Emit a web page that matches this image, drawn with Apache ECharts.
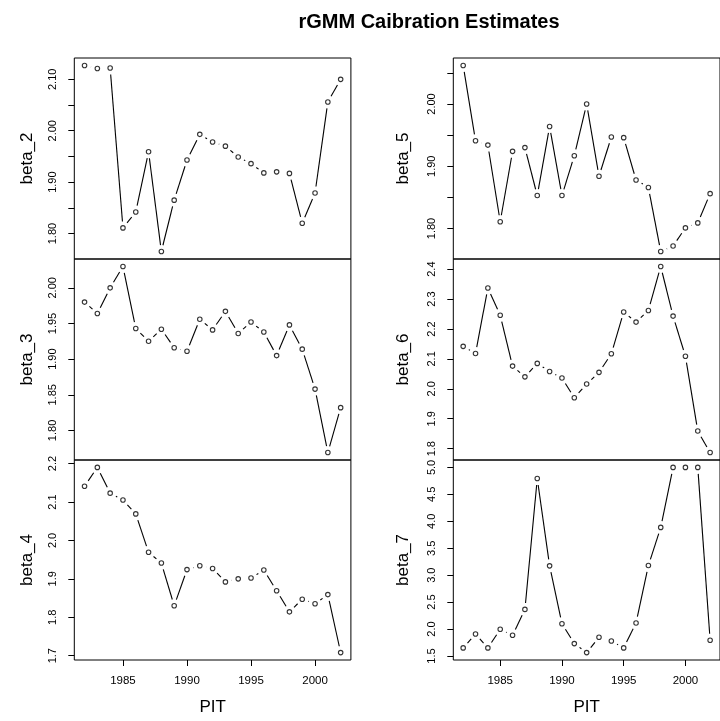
<!DOCTYPE html>
<html>
<head>
<meta charset="utf-8">
<script src="https://cdn.jsdelivr.net/npm/echarts@6/dist/echarts.min.js"></script>
<style>
  html, body { margin: 0; padding: 0; background: #fff; }
  #chart { width: 720px; height: 721px; }
</style>
</head>
<body>
<div id="chart"></div>
<script>
// 年份
var years = [1982, 1983, 1984, 1985, 1986, 1987, 1988, 1989, 1990, 1991, 1992,
             1993, 1994, 1995, 1996, 1997, 1998, 1999, 2000, 2001, 2002];

// 各参数的估计值
var beta_2 = [2.127, 2.121, 2.122, 1.811, 1.842, 1.959, 1.765, 1.865, 1.943, 1.993, 1.978,
              1.970, 1.949, 1.936, 1.918, 1.920, 1.917, 1.820, 1.879, 2.056, 2.100];
var beta_3 = [1.980, 1.964, 2.000, 2.030, 1.943, 1.925, 1.942, 1.916, 1.911, 1.956, 1.941,
              1.967, 1.936, 1.952, 1.938, 1.905, 1.948, 1.914, 1.858, 1.769, 1.832];
var beta_4 = [2.141, 2.190, 2.123, 2.105, 2.069, 1.969, 1.941, 1.830, 1.924, 1.934, 1.927,
              1.892, 1.900, 1.902, 1.923, 1.869, 1.814, 1.847, 1.835, 1.859, 1.708];
var beta_5 = [2.062, 1.941, 1.934, 1.811, 1.924, 1.930, 1.853, 1.964, 1.853, 1.917, 2.000,
              1.884, 1.947, 1.946, 1.878, 1.866, 1.763, 1.772, 1.801, 1.809, 1.856];
var beta_6 = [2.142, 2.118, 2.337, 2.246, 2.076, 2.040, 2.085, 2.058, 2.036, 1.970, 2.016,
              2.055, 2.117, 2.257, 2.223, 2.262, 2.409, 2.243, 2.109, 1.859, 1.787];
var beta_7 = [1.651, 1.909, 1.651, 1.996, 1.885, 2.365, 4.793, 3.173, 2.100, 1.731, 1.564,
              1.848, 1.780, 1.651, 2.113, 3.179, 3.887, 5.000, 5.000, 5.000, 1.792];

// 刻度
var xTicks = [1985, 1990, 1995, 2000];
var beta_2Ticks = [1.80, 1.85, 1.90, 1.95, 2.00, 2.05, 2.10];
var beta_2Labels = [1.80, 1.90, 2.00, 2.10];
var beta_3Ticks = [1.80, 1.85, 1.90, 1.95, 2.00];
var beta_3Labels = [1.80, 1.85, 1.90, 1.95, 2.00];
var beta_4Ticks = [1.7, 1.8, 1.9, 2.0, 2.1, 2.2];
var beta_4Labels = [1.7, 1.8, 1.9, 2.0, 2.1, 2.2];
var beta_5Ticks = [1.80, 1.85, 1.90, 1.95, 2.00, 2.05];
var beta_5Labels = [1.80, 1.90, 2.00];
var beta_6Ticks = [1.8, 1.9, 2.0, 2.1, 2.2, 2.3, 2.4];
var beta_6Labels = [1.8, 1.9, 2.0, 2.1, 2.2, 2.3, 2.4];
var beta_7Ticks = [1.5, 2.0, 2.5, 3.0, 3.5, 4.0, 4.5, 5.0];
var beta_7Labels = [1.5, 2.0, 2.5, 3.0, 3.5, 4.0, 4.5, 5.0];

var FONT = "'Liberation Sans', Arial, Helvetica, sans-serif";
var GAP = 6.5; // type="b" 线段在点两端留空

var panels = [
  { name: "beta_2", data: beta_2, ticks: beta_2Ticks, labels: beta_2Labels, dec: 2, left: 74.3, top: 58, height: 201, gap: 38, bottom: false },
  { name: "beta_3", data: beta_3, ticks: beta_3Ticks, labels: beta_3Labels, dec: 2, left: 74.3, top: 259, height: 201, gap: 38, bottom: false },
  { name: "beta_4", data: beta_4, ticks: beta_4Ticks, labels: beta_4Labels, dec: 1, left: 74.3, top: 460, height: 200, gap: 38, bottom: true },
  { name: "beta_5", data: beta_5, ticks: beta_5Ticks, labels: beta_5Labels, dec: 2, left: 453.3, top: 58, height: 201, gap: 41, bottom: false },
  { name: "beta_6", data: beta_6, ticks: beta_6Ticks, labels: beta_6Labels, dec: 1, left: 453.3, top: 259, height: 201, gap: 41, bottom: false },
  { name: "beta_7", data: beta_7, ticks: beta_7Ticks, labels: beta_7Labels, dec: 1, left: 453.3, top: 460, height: 200, gap: 41, bottom: true }
];

// R 的默认范围：数据两端各扩 4%
function padMin(v) { return v.min - 0.04 * (v.max - v.min); }
function padMax(v) { return v.max + 0.04 * (v.max - v.min); }

var grids = [], xAxes = [], yAxes = [], series = [];

panels.forEach(function (p, idx) {
  grids.push({
    left: p.left, top: p.top, width: 276.6, height: p.height,
    show: true, borderColor: "#000", borderWidth: 1, backgroundColor: "transparent"
  });

  xAxes.push({
    type: "value", gridIndex: idx, min: padMin, max: padMax,
    show: p.bottom,
    name: "PIT", nameLocation: "middle", nameGap: 39,
    nameTextStyle: { fontSize: 17, color: "#000", fontFamily: FONT },
    axisLine: { show: false },
    axisTick: { show: true, length: 6, customValues: xTicks, lineStyle: { color: "#000" } },
    axisLabel: {
      customValues: xTicks, margin: 15, fontSize: 11.5, color: "#000", fontFamily: FONT,
      formatter: function (v) { return String(v); }
    },
    splitLine: { show: false }
  });

  yAxes.push({
    type: "value", gridIndex: idx, min: padMin, max: padMax,
    name: p.name, nameLocation: "middle", nameGap: p.gap, nameRotate: 90,
    nameTextStyle: { fontSize: 17, color: "#000", fontFamily: FONT },
    axisLine: { show: false },
    axisTick: { show: true, length: 6, customValues: p.ticks, lineStyle: { color: "#000" } },
    axisLabel: {
      customValues: p.labels, rotate: 90, margin: 16, fontSize: 11, color: "#000", fontFamily: FONT,
      formatter: (function (d) { return function (v) { return Number(v).toFixed(d); }; })(p.dec)
    },
    splitLine: { show: false }
  });

  var segs = [];
  for (var i = 0; i < years.length - 1; i++) {
    segs.push([years[i], p.data[i], years[i + 1], p.data[i + 1]]);
  }

  series.push({
    type: "custom", xAxisIndex: idx, yAxisIndex: idx,
    data: segs, encode: { x: [0, 2], y: [1, 3] },
    renderItem: function (params, api) {
      var a = api.coord([api.value(0), api.value(1)]);
      var b = api.coord([api.value(2), api.value(3)]);
      var dx = b[0] - a[0], dy = b[1] - a[1];
      var len = Math.sqrt(dx * dx + dy * dy);
      if (len <= 2 * GAP) return { type: "group", children: [] };
      var ux = dx / len, uy = dy / len;
      return {
        type: "line",
        shape: { x1: a[0] + ux * GAP, y1: a[1] + uy * GAP, x2: b[0] - ux * GAP, y2: b[1] - uy * GAP },
        style: { stroke: "#000", lineWidth: 1.1 }
      };
    }
  });

  series.push({
    type: "scatter", xAxisIndex: idx, yAxisIndex: idx,
    data: years.map(function (y, i) { return [y, p.data[i]]; }),
    symbol: "circle", symbolSize: 4.5,
    itemStyle: { color: "#fff", borderColor: "#000", borderWidth: 1.1 }
  });
});

var myChart = echarts.init(document.getElementById("chart"));
myChart.setOption({
  animation: false,
  backgroundColor: "#fff",
  title: {
    text: "rGMM Caibration Estimates",
    left: 424, top: 7, textAlign: "center",
    textStyle: { fontSize: 20, fontWeight: "bold", color: "#000", fontFamily: FONT }
  },
  grid: grids,
  xAxis: xAxes,
  yAxis: yAxes,
  series: series
});
</script>
</body>
</html>
